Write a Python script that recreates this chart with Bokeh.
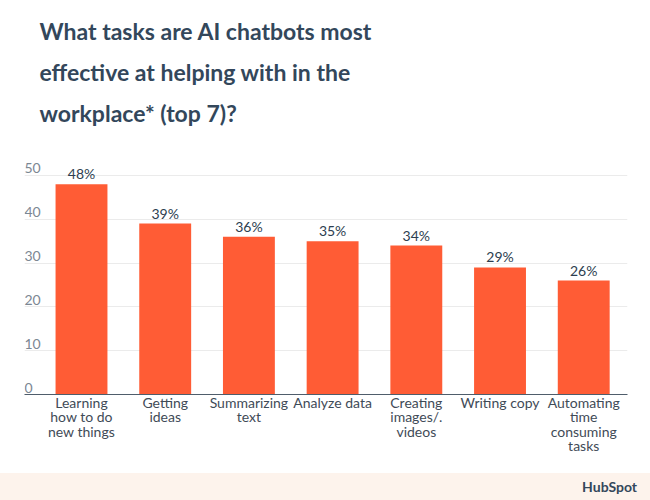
from bokeh.plotting import figure
from bokeh.models import Range1d, FixedTicker, Title, ColumnDataSource, Div
from bokeh.layouts import column
from bokeh.embed import file_html
from bokeh.resources import INLINE
from bokeh.core.properties import value

# ---- data ----
categories = [
    "Learning\nhow to do\nnew things",
    "Getting\nideas",
    "Summarizing\ntext",
    "Analyze data",
    "Creating\nimages/.\nvideos",
    "Writing copy",
    "Automating\ntime\nconsuming\ntasks",
]
percentages = [48, 39, 36, 35, 34, 29, 26]
y_ticks = [0, 10, 20, 30, 40, 50]
title_lines = [
    "What tasks are AI chatbots most",
    "effective at helping with in the",
    "workplace* (top 7)?",
]
brand = "HubSpot"

# ---- style ----
BAR = "#ff5c35"
DARK = "#33475b"
FONT = "Lato"
W = 650
H_MAIN = 473
H_FOOT = 27
X_START, X_END = -0.681, 6.523
Y_START, Y_END = 0, 55

xs = list(range(len(categories)))
src = ColumnDataSource(dict(
    x=xs,
    top=percentages,
    label=[f"{v}%" for v in percentages],
))

p = figure(
    width=W, height=H_MAIN,
    x_range=Range1d(X_START, X_END), y_range=Range1d(Y_START, Y_END),
    output_backend="svg", toolbar_location=None,
    min_border_left=24, min_border_right=23,
    min_border_top=153, min_border_bottom=79,
)
p.outline_line_color = None
p.background_fill_color = "white"
p.border_fill_color = "white"

# spacer between title and plot area
p.add_layout(Title(text=" ", text_font_size="1px", standoff=18), "above")
# title: one panel per line, nearest the plot first
for line in reversed(title_lines):
    t = Title(
        text=line,
        text_font=FONT, text_font_size="23px", text_font_style="bold",
        text_color=DARK, align="left", offset=15, standoff=11,
        text_line_height=1.0,
    )
    p.add_layout(t, "above")

p.vbar(x="x", top="top", width=0.62, source=src, color=BAR, line_color=None)

p.text(x="x", y="top", text="label", source=src,
       text_align="center", text_baseline="bottom", y_offset=-2,
       text_font=value(FONT), text_font_size="14px", text_color="#2d3e50")

# y tick labels, left aligned, sitting above each gridline
p.text(x=[X_START] * len(y_ticks), y=y_ticks, text=[str(v) for v in y_ticks],
       text_align="left", text_baseline="bottom", y_offset=-2,
       text_font=value(FONT), text_font_size="14px", text_color="#7c8793")

p.yaxis.visible = False
p.ygrid.ticker = FixedTicker(ticks=y_ticks[1:])
p.ygrid.grid_line_color = "#ebebeb"
p.ygrid.grid_line_width = 1
p.xgrid.grid_line_color = None

xa = p.xaxis[0]
xa.ticker = FixedTicker(ticks=xs)
xa.major_label_overrides = {i: c for i, c in zip(xs, categories)}
xa.major_tick_line_color = None
xa.minor_tick_line_color = None
xa.major_tick_out = 0
xa.axis_line_color = "#4f5d6b"
xa.axis_line_width = 1
xa.major_label_standoff = -1
xa.major_label_text_font = FONT
xa.major_label_text_font_size = "14px"
xa.major_label_text_color = "#3f4b57"
xa.major_label_text_line_height = 0.86

# ---- footer band ----
footer = Div(
    text=brand, width=W, height=H_FOOT, margin=(0, 0, 0, 0),
    styles={
        "background-color": "#fdf3ec",
        "text-align": "right",
        "font-family": "Lato",
        "font-weight": "bold",
        "font-size": "14px",
        "color": DARK,
        "line-height": f"{H_FOOT}px",
        "padding-right": "13px",
        "box-sizing": "border-box",
    },
)

layout = column(p, footer, spacing=0)
open("out.html", "w").write(file_html(layout, INLINE))
